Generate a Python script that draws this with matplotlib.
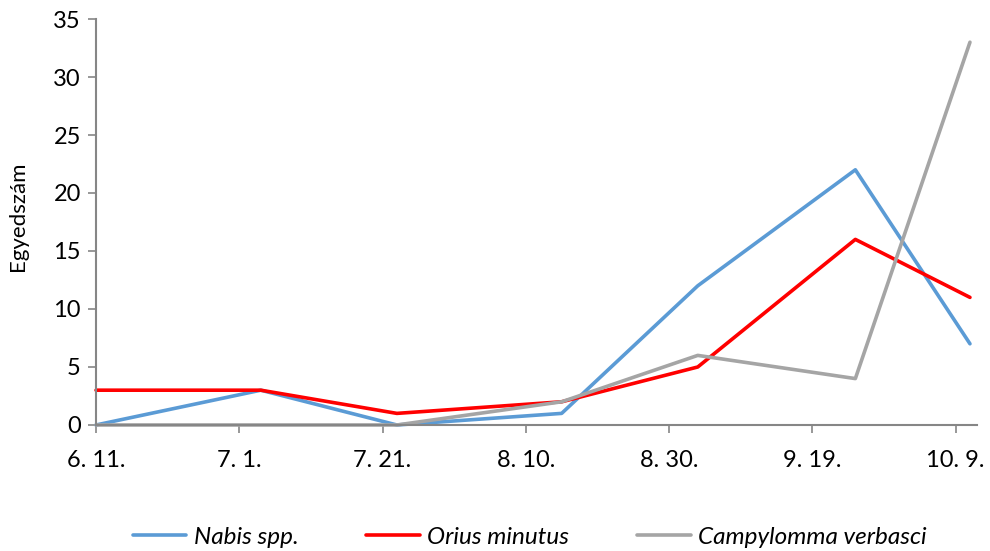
import numpy as np
from matplotlib import pyplot as plt

# sampling dates (month-day) and counts per species
dates = ['06-11', '07-04', '07-23', '08-15', '09-03', '09-25', '10-11']
nabis = [0, 3, 0, 1, 12, 22, 7]
orius = [3, 3, 1, 2, 5, 16, 11]
campylomma = [0, 0, 0, 2, 6, 4, 33]

tick_dates = ['06-11', '07-01', '07-21', '08-10', '08-30', '09-19', '10-09']
tick_labels = ['6. 11.', '7. 1.', '7. 21.', '8. 10.', '8. 30.', '9. 19.', '10. 9.']

start = np.datetime64('2015-06-11')
days = [(np.datetime64('2015-' + d) - start).astype(int) for d in dates]
tick_days = [(np.datetime64('2015-' + d) - start).astype(int) for d in tick_dates]

plt.rcParams['font.family'] = ['Lato', 'DejaVu Sans']

fig = plt.figure(figsize=[9.9, 5.51], dpi=100)
ax = fig.add_axes([0.097, 0.2287, 0.89, 0.7368])

ax.plot(days, nabis, color='#5B9BD5', lw=2.6, label='Nabis spp.', clip_on=False, solid_capstyle='round')
ax.plot(days, orius, color='#FF0000', lw=2.6, label='Orius minutus', clip_on=False, solid_capstyle='round')
ax.plot(days, campylomma, color='#A5A5A5', lw=2.6, label='Campylomma verbasci', clip_on=False, solid_capstyle='round')

ax.set_xlim(0, 123)
ax.set_ylim(0, 35)
ax.set_yticks(range(0, 36, 5))
ax.set_xticks(tick_days)
ax.set_xticklabels(tick_labels)

for s in ['top', 'right']:
    ax.spines[s].set_visible(False)
for s in ['left', 'bottom']:
    ax.spines[s].set_color('#868686')
    ax.spines[s].set_linewidth(1.5)
ax.tick_params(axis='both', direction='out', length=6, width=1.2, color='#868686',
               labelsize=17, labelcolor='black')
ax.tick_params(axis='x', pad=12)
ax.tick_params(axis='y', pad=5)

ax.set_ylabel('Egyedszám', fontsize=16)
ax.yaxis.set_label_coords(-0.077, 0.515)

leg = fig.legend(loc='center', bbox_to_anchor=(0.535, 0.025), ncol=3, frameon=False,
                 prop={'style': 'italic', 'size': 17.5}, handlelength=2.2,
                 handletextpad=0.3, columnspacing=2.8)

plt.savefig('out.png')
